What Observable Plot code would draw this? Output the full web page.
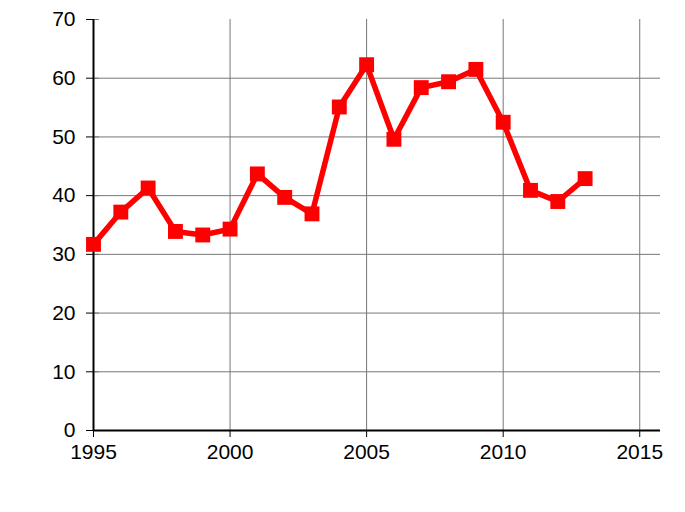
<!DOCTYPE html>
<html>
<head>
<meta charset="utf-8">
<script src="https://cdn.jsdelivr.net/npm/d3@7"></script>
<script src="https://cdn.jsdelivr.net/npm/@observablehq/plot@0.6"></script>
<style>
  html, body { margin: 0; padding: 0; background: #fff; }
  svg { display: block; }
</style>
</head>
<body>
<div id="chart"></div>
<script>
const years = [1995,1996,1997,1998,1999,2000,2001,2002,2003,2004,2005,2006,2007,2008,2009,2010,2011,2012,2013];
const values = [31.7,37.2,41.3,33.9,33.3,34.3,43.7,39.7,36.9,55.1,62.3,49.6,58.4,59.4,61.5,52.5,40.9,39.0,42.9];
const xTicks = [1995,2000,2005,2010,2015];
const yTicks = [0,10,20,30,40,50,60,70];
const xGrid = [2000,2005,2010,2015];
const yGrid = [10,20,30,40,50,60];

const data = years.map((y, i) => ({year: y, value: values[i]}));

const chart = Plot.plot({
  width: 685,
  height: 512,
  marginLeft: 93,
  marginRight: 25,
  marginTop: 19,
  marginBottom: 82,
  style: {fontFamily: "'Liberation Sans', Arial, sans-serif", fontSize: "21px", color: "#000", background: "#fff"},
  x: {domain: [1995, 2015.76], ticks: xTicks, tickFormat: d => String(d)},
  y: {domain: [0, 70], ticks: yTicks},
  marks: [
    Plot.ruleX(xGrid, {y1: 0, y2: 70, stroke: "#777", strokeWidth: 1}),
    Plot.ruleY(yGrid, {stroke: "#777", strokeWidth: 1}),
    Plot.axisX({ticks: xTicks, tickFormat: d => String(d), tickSize: 7, tickPadding: 7, fontSize: 21, stroke: "#000", label: null}),
    Plot.axisY({ticks: yTicks, tickSize: 7, tickPadding: 11, fontSize: 21, stroke: "#000", label: null}),
    Plot.ruleY(yTicks, {x1: 1995, x2: 1995.22, stroke: "#777", strokeWidth: 1}),
    Plot.ruleY([0], {stroke: "#000", strokeWidth: 2}),
    Plot.ruleX([1995], {y1: 0, y2: 70, stroke: "#000", strokeWidth: 2}),
    Plot.line(data, {x: "year", y: "value", stroke: "#ff0000", strokeWidth: 5.5, strokeLinejoin: "round"}),
    Plot.dot(data, {x: "year", y: "value", symbol: "square", r: 8.4, fill: "#ff0000", stroke: "none"})
  ]
});
document.getElementById("chart").appendChild(chart);
</script>
</body>
</html>
